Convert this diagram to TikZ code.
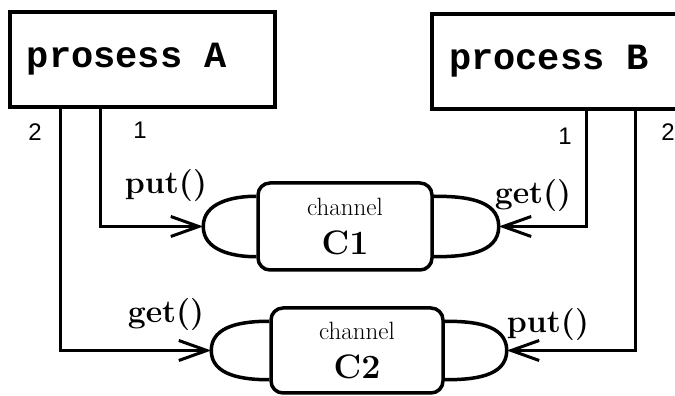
\documentclass[tikz,border=0pt]{standalone}
\usepackage{fontspec}
\setmonofont{Liberation Mono}
\setsansfont{Liberation Sans}
\usetikzlibrary{arrows.meta}

\begin{document}
\begin{tikzpicture}[x=1pt, y=1pt,
        procbox/.style={draw, line width=4pt, minimum height=95pt, text width=#1,
            align=left, inner xsep=17pt, font=\fontsize{37}{40}\selectfont\ttfamily\bfseries},
        chanbox/.style={draw, line width=3.5pt, rounded corners=12pt, align=center, inner sep=0pt,
            font=\fontsize{34}{34}\selectfont},
        loopline/.style={line width=3.5pt},
        flow/.style={line width=3pt, -{Straight Barb[length=28pt, width=20pt, line width=3pt]}},
        call/.style={font=\fontsize{32}{36}\selectfont\bfseries},
        port/.style={font=\fontsize{24}{26}\selectfont\sffamily}]

            % the frame
            \path[clip] (0, 0) rectangle (675, 396);
            \useasboundingbox (0, 0) rectangle (675, 396);

            % the processes
            \node[procbox=231pt] (pA) at (142.5, 336.5) {prosess\hspace{0.6em}A};
            \node[procbox=234pt] (pB) at (566, 334.5) {process\hspace{0.6em}B};

            % the channels
            \foreach \n/\x/\y/\w/\h/\l/\r in {1/345/169.5/174/87/53/65, 2/357/45.5/172/85/58/62} {
                \node[chanbox, minimum width=\w pt, minimum height=\h pt] (c\n) at (\x, \y)
                    {{\fontsize{25}{26}\selectfont channel}\\[5pt]{\bfseries C\n}};
                \coordinate (l\n) at ([xshift=-\l pt]c\n.west);
                \coordinate (r\n) at ([xshift=\r pt]c\n.east);
                \draw[loopline] ([yshift=-15pt]c\n.north west) to[out=180, in=90] (l\n)
                    to[out=-90, in=180] ([yshift=15pt]c\n.south west);
                \draw[loopline] ([yshift=-15pt]c\n.north east) to[out=0, in=90] (r\n)
                    to[out=-90, in=0] ([yshift=15pt]c\n.south east);
            };

            % the wires
            \draw[flow] ([xshift=92pt]pA.south west) |- (l1);
            \draw[flow] ([xshift=52pt]pA.south west) |- (l2);
            \draw[flow] ([xshift=156pt]pB.south west) |- (r1);
            \draw[flow] ([xshift=205pt]pB.south west) |- (r2);

            % labels
            \node[port] (nA2) at (35, 264) {2};
            \node[port] (nA1) at (140, 266) {1};
            \node[port] (nB1) at (565, 260) {1};
            \node[port] (nB2) at (668, 264) {2};
            \node[call] (putA) at (166, 210) {put()};
            \node[call] (getB) at (533, 200) {get()};
            \node[call] (getA) at (166, 81) {get()};
            \node[call] (putB) at (548, 71) {put()};
        \end{tikzpicture}
\end{document}
